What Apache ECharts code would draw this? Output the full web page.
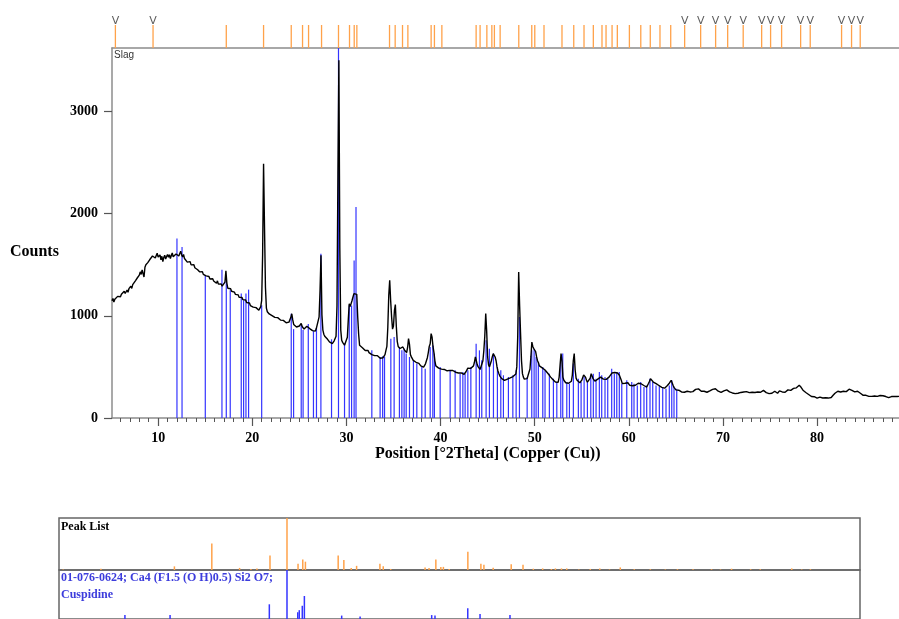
<!DOCTYPE html>
<html>
<head>
<meta charset="utf-8">
<script src="https://cdn.jsdelivr.net/npm/echarts@6.0.0/dist/echarts.min.js"></script>
<style>
  html, body { margin: 0; padding: 0; background: #fff; }
  #main { width: 899px; height: 619px; }
</style>
</head>
<body>
<div id="main"></div>
<script>
// measured scan, 2theta from 5.1 to 88.7 in 0.1 steps
const scanStart = 5.1
const scanStep = 0.1
const scanCounts = [
  1148, 1170, 1135, 1162, 1180, 1158, 1190, 1172, 1205, 1186,
  1210, 1195, 1222, 1240, 1218, 1236, 1252, 1230, 1265, 1278,
  1290, 1268, 1305, 1322, 1300, 1345, 1330, 1372, 1355, 1398,
  1430, 1405, 1448, 1462, 1380, 1475, 1500, 1488, 1520, 1505,
  1548, 1560, 1535, 1585, 1570, 1598, 1565, 1590, 1612, 1575,
  1560, 1595, 1548, 1582, 1530, 1570, 1592, 1555, 1580, 1600,
  1572, 1598, 1560, 1590, 1615, 1578, 1596, 1565, 1605, 1590,
  1620, 1585, 1610, 1632, 1595, 1575, 1600, 1560, 1548, 1570,
  1525, 1540, 1512, 1530, 1498, 1510, 1485, 1500, 1470, 1478,
  1462, 1450, 1468, 1430, 1445, 1420, 1432, 1405, 1415, 1398,
  1390, 1402, 1375, 1385, 1360, 1372, 1348, 1362, 1340, 1355,
  1330, 1318, 1342, 1310, 1325, 1298, 1312, 1290, 1305, 1285,
  1330, 1440, 1320, 1270, 1282, 1255, 1265, 1240, 1250, 1225,
  1232, 1210, 1218, 1195, 1205, 1182, 1190, 1170, 1180, 1158,
  1165, 1148, 1155, 1130, 1138, 1118, 1125, 1100, 1112, 1092,
  1085, 1098, 1072, 1080, 1062, 1075, 1055, 1068, 1090, 1150,
  1600, 2488, 1870, 1280, 1075, 1040, 1030, 1018, 1025, 1010,
  1002, 1012, 995, 985, 998, 975, 982, 968, 975, 958,
  965, 948, 955, 940, 950, 932, 945, 925, 938, 930,
  985, 1020, 960, 915, 905, 920, 890, 902, 885, 900,
  912, 925, 895, 880, 870, 862, 885, 898, 910, 890,
  875, 868, 882, 855, 848, 862, 850, 875, 868, 880,
  990, 1250, 1591, 1010, 860, 820, 800, 792, 785, 770,
  752, 745, 760, 738, 728, 740, 755, 770, 800, 1100,
  2390, 3500, 1660, 860, 760, 740, 725, 712, 720, 708,
  790, 960, 1118, 1090, 1086, 1150, 1184, 1217, 1200, 1233,
  1210, 990, 820, 711, 700, 695, 688, 672, 680, 660,
  655, 648, 660, 640, 632, 645, 620, 628, 615, 610,
  605, 598, 610, 592, 600, 585, 595, 580, 590, 600,
  620, 662, 700, 890, 1200, 1347, 1150, 990, 870, 900,
  1050, 1110, 900, 750, 700, 690, 680, 672, 690, 695,
  688, 660, 650, 640, 690, 776, 720, 620, 598, 580,
  564, 570, 552, 545, 535, 528, 535, 518, 510, 500,
  505, 498, 512, 530, 560, 590, 640, 700, 727, 825,
  790, 700, 640, 560, 510, 498, 492, 488, 480, 485,
  478, 490, 470, 475, 466, 480, 462, 470, 458, 466,
  472, 460, 465, 455, 462, 448, 452, 450, 440, 445,
  438, 442, 430, 435, 428, 440, 452, 470, 488, 495,
  480, 485, 478, 490, 510, 545, 597, 560, 520, 500,
  485, 475, 466, 470, 560, 660, 800, 1021, 850, 600,
  520, 500, 510, 560, 600, 630, 615, 597, 560, 500,
  460, 434, 410, 398, 385, 378, 372, 368, 370, 375,
  380, 385, 378, 392, 388, 400, 405, 418, 412, 430,
  500, 800, 1428, 1100, 825, 560, 434, 400, 380, 370,
  372, 385, 418, 430, 480, 600, 743, 700, 680, 694,
  650, 600, 560, 540, 510, 500, 495, 490, 486, 483,
  470, 460, 448, 434, 425, 410, 400, 390, 380, 370,
  365, 352, 340, 336, 350, 400, 520, 630, 560, 400,
  369, 355, 345, 340, 338, 340, 336, 345, 360, 420,
  560, 630, 470, 390, 369, 360, 352, 345, 360, 370,
  385, 420, 434, 400, 370, 350, 345, 360, 390, 434,
  410, 385, 370, 360, 352, 365, 380, 372, 395, 400,
  388, 392, 380, 375, 370, 378, 385, 395, 400, 410,
  418, 440, 450, 438, 445, 430, 450, 440, 432, 418,
  400, 370, 336, 345, 352, 340, 350, 330, 345, 335,
  320, 330, 303, 315, 325, 310, 320, 335, 330, 340,
  352, 345, 335, 340, 328, 318, 325, 310, 303, 320,
  340, 360, 385, 395, 370, 352, 345, 338, 336, 330,
  325, 318, 310, 305, 300, 295, 286, 292, 300, 310,
  318, 325, 340, 355, 369, 345, 320, 300, 285, 275,
  270, 265, 272, 258, 262, 255, 268, 260, 252, 262,
  270, 262, 275, 268, 255, 262, 270, 258, 265, 272,
  280, 275, 268, 285, 278, 270, 262, 268, 255, 262,
  258, 265, 252, 260, 270, 265, 275, 268, 280, 285,
  290, 286, 278, 270, 262, 255, 262, 250, 258, 262,
  265, 258, 270, 275, 271, 262, 255, 248, 252, 245,
  240, 248, 238, 245, 252, 242, 235, 245, 250, 242,
  248, 255, 262, 270, 258, 250, 242, 248, 238, 245,
  252, 245, 238, 250, 258, 262, 255, 268, 260, 252,
  258, 265, 270, 262, 255, 248, 240, 232, 238, 228,
  235, 242, 250, 258, 262, 255, 248, 242, 255, 265,
  271, 262, 255, 248, 258, 252, 262, 268, 275, 270,
  262, 270, 278, 285, 290, 282, 288, 295, 305, 312,
  320, 315, 300, 285, 272, 265, 258, 250, 245, 238,
  230, 225, 218, 210, 205, 200, 208, 198, 202, 195,
  192, 200, 205, 198, 190, 196, 203, 192, 198, 205,
  200, 195, 205, 210, 200, 215, 222, 235, 242, 250,
  255, 262, 258, 265, 254, 260, 268, 262, 270, 265,
  258, 268, 275, 282, 290, 278, 270, 262, 268, 255,
  260, 254, 262, 258, 250, 242, 235, 228, 222, 218,
  215, 222, 210, 218, 212, 220, 205, 212, 218, 222,
  215, 210, 220, 212, 205, 215, 220, 208, 212, 218,
  212, 205, 210, 215, 208, 200, 212, 205, 210, 215,
  208, 212, 205, 215, 210, 205, 212
]

// peak list (positions + relative intensity %)
const peakTheta = [5.46, 9.46, 17.24, 21.2, 24.14, 25.34, 25.98, 27.36, 29.16, 30.33, 30.83, 31.11,
  34.58, 35.18, 35.96, 36.53, 39.0, 39.35, 40.14, 43.78, 44.2, 44.92, 45.45, 45.72, 46.33, 48.31,
  49.69, 50.01, 50.99, 52.9, 54.15, 55.24, 56.23, 57.15, 57.58, 58.22, 58.78, 60.06, 61.27, 62.28,
  63.31, 64.45, 65.93, 67.63, 69.22, 70.5, 72.15, 74.11, 75.06, 76.23, 78.25, 79.27, 82.6, 83.66, 84.58]
const peakRel = [1, 2.5, 7, 51, 4, 2, 3, 28, 100, 12, 20, 16,
  28, 19, 4, 8, 12, 7, 2, 5, 4, 20, 6, 6, 2, 35,
  12, 10, 4.5, 11, 10, 2.5, 3, 2, 3, 3, 3, 1, 2, 3,
  1, 5, 1.5, 1.5, 1, 1.5, 1.5, 1.5, 1, 2.5, 1.5, 1.5, 3, 1, 1.5]
// peaks flagged with a "V" in the strip
const peakMarked = [5.46, 9.46, 65.93, 67.63, 69.22, 70.5, 72.15, 74.11, 75.06, 76.23, 78.25, 79.27, 82.6, 83.66, 84.58]

// Cuspidine reference sticks as drawn in the scan window
const refTheta = [12.0, 12.54, 15.01, 16.78, 17.24, 17.66, 18.83, 19.08, 19.33, 19.61, 21.0,
  24.14, 24.39, 25.2, 25.4, 25.95, 26.5, 26.82, 27.29, 28.42, 29.16, 29.8, 30.3, 30.55, 30.82, 31.02,
  32.7, 33.58, 33.85, 34.05, 34.72, 35.07, 35.63, 35.89, 36.13, 36.35, 36.7, 37.12, 37.48, 38.01, 38.37,
  38.9, 39.18, 39.35, 39.96, 41.02, 41.55, 42.08, 42.37, 42.61, 42.9, 43.22, 43.78, 44.13, 44.38, 44.84,
  45.19, 45.62, 46.04, 46.4, 46.68, 47.21, 47.68, 48.03, 48.38, 49.2, 49.69, 49.94, 50.15, 50.39, 50.86,
  51.1, 51.56, 51.99, 52.35, 52.77, 52.98, 53.41, 53.69, 54.11, 54.64, 54.93, 55.25, 55.6, 55.96, 56.23,
  56.52, 56.87, 57.12, 57.47, 57.76, 58.18, 58.46, 58.72, 58.99, 59.25, 59.78, 60.31, 60.55, 60.9, 61.26,
  61.61, 61.9, 62.25, 62.54, 62.89, 63.24, 63.6, 63.95, 64.3, 64.56, 64.8, 65.09]
const refCounts = [1755, 1673, 1396, 1451, 1347, 1249, 1217, 1151, 1217, 1256, 1102,
  1021, 870, 920, 860, 920, 850, 880, 1608, 770, 3620, 728, 1102, 1100, 1542, 2064,
  662, 597, 605, 600, 776, 792, 694, 662, 678, 630, 597, 564, 532, 499, 483,
  694, 711, 630, 499, 466, 466, 434, 450, 434, 466, 499, 727, 662, 564, 760,
  678, 630, 499, 466, 418, 401, 418, 466, 988, 400, 662, 678, 597, 548, 499,
  466, 434, 385, 352, 597, 630, 352, 336, 532, 385, 352, 401, 352, 418, 434,
  385, 450, 418, 401, 385, 483, 434, 450, 450, 336, 369, 352, 336, 319, 352,
  303, 319, 385, 352, 319, 319, 303, 286, 319, 369, 303, 286]

// Cuspidine sticks in the lower panel (relative %)
const refListTheta = [12.0, 16.78, 27.29, 29.16, 30.3, 30.46, 30.78, 31.0, 34.95, 36.9, 44.48, 44.83, 48.3, 49.6, 52.77]
const refListRel = [8, 8, 30, 100, 14, 18, 27, 47, 7, 5, 8, 7, 22, 10, 8]

// axis ticks
const xLabels = [10, 20, 30, 40, 50, 60, 70, 80]
const xMinorTicks = []
for (let t = 6; t <= 88; t++) xMinorTicks.push(t)
const yLabels = [0, 1000, 2000, 3000]

const scanData = scanCounts.map((c, i) => [+(scanStart + i * scanStep).toFixed(2), c])

var myChart = echarts.init(document.getElementById('main'), null, { renderer: 'canvas' })

const serif = 'Liberation Serif'
const gray = '#8c8c8c'
const orange = '#ffa24a'
const blue = '#3434ff'
const hidden = { show: false }

myChart.setOption({
  animation: false,
  backgroundColor: '#fff',
  grid: [
    { left: 112, right: 0, top: 10, height: 38 },
    { left: 112, right: 0, top: 48, height: 370 },
    { left: 112, right: 0, top: 48, height: 370 },
    { left: 59, width: 801, top: 518, height: 52, show: true, borderColor: '#666', borderWidth: 1.5 },
    { left: 59, width: 801, top: 570, height: 53, show: true, borderColor: '#666', borderWidth: 1.5 }
  ],
  xAxis: [
    { type: 'value', gridIndex: 0, min: 5.1, max: 88.7, axisLine: { lineStyle: { color: gray, width: 1.5 } },
      axisTick: hidden, axisLabel: hidden, splitLine: hidden },
    { type: 'value', gridIndex: 1, min: 5.1, max: 88.7,
      axisLine: { onZero: false, lineStyle: { color: gray, width: 1.5 } },
      axisTick: { customValues: xLabels, length: 8, lineStyle: { color: '#555', width: 1.2 } },
      axisLabel: { customValues: xLabels, margin: 13, color: '#000', fontFamily: serif, fontWeight: 'bold', fontSize: 14 },
      splitLine: hidden },
    { type: 'value', gridIndex: 2, min: 5.1, max: 88.7, axisLine: hidden,
      axisTick: { customValues: xMinorTicks, length: 4, lineStyle: { color: '#555' } },
      axisLabel: hidden, splitLine: hidden },
    { type: 'value', gridIndex: 3, min: 5.02, max: 89.83, show: false },
    { type: 'value', gridIndex: 4, min: 5.02, max: 89.83, show: false }
  ],
  yAxis: [
    { type: 'value', gridIndex: 0, min: 0, max: 1.65, show: false },
    { type: 'value', gridIndex: 1, min: 0, max: 3620,
      axisLine: { show: true, lineStyle: { color: gray, width: 1.5 } },
      axisTick: { show: true, customValues: yLabels, length: 8, lineStyle: { color: '#555', width: 1.2 } },
      axisLabel: { customValues: yLabels, formatter: v => String(v), margin: 14, color: '#000', fontFamily: serif, fontWeight: 'bold', fontSize: 14 },
      splitLine: hidden },
    { type: 'value', gridIndex: 2, min: 0, max: 3620, show: false },
    { type: 'value', gridIndex: 3, min: 0, max: 100, show: false },
    { type: 'value', gridIndex: 4, min: 0, max: 100, show: false }
  ],
  series: [
    // peak markers strip
    {
      type: 'bar', xAxisIndex: 0, yAxisIndex: 0, barWidth: 1.3,
      itemStyle: { color: orange },
      data: peakTheta.map(t => [t, 1])
    },
    {
      type: 'scatter', xAxisIndex: 0, yAxisIndex: 0, symbol: 'rect', symbolSize: 1,
      itemStyle: { color: 'rgba(0,0,0,0)' },
      label: { show: true, position: 'inside', formatter: 'V', color: '#333', fontFamily: 'DejaVu Sans', fontSize: 11 },
      data: peakMarked.map(t => [t, 1.17])
    },
    // reference sticks in scan
    {
      type: 'bar', xAxisIndex: 1, yAxisIndex: 1, barWidth: 1.2, z: 2,
      itemStyle: { color: blue },
      data: refTheta.map((t, i) => [t, refCounts[i]])
    },
    // scan
    {
      type: 'line', xAxisIndex: 1, yAxisIndex: 1, showSymbol: false, z: 3,
      lineStyle: { color: '#000', width: 1.4 },
      data: scanData
    },
    // peak list panel
    {
      type: 'bar', xAxisIndex: 3, yAxisIndex: 3, barWidth: 1.5,
      itemStyle: { color: orange },
      data: peakTheta.map((t, i) => [t, peakRel[i]])
    },
    // cuspidine panel
    {
      type: 'bar', xAxisIndex: 4, yAxisIndex: 4, barWidth: 1.5,
      itemStyle: { color: blue },
      data: refListTheta.map((t, i) => [t, refListRel[i]])
    }
  ],
  graphic: [
    { type: 'text', left: 10, top: 244, style: { text: 'Counts', font: 'bold 16px "Liberation Serif"', fill: '#000' } },
    { type: 'text', left: 375, top: 446, style: { text: 'Position [°2Theta] (Copper (Cu))', font: 'bold 16px "Liberation Serif"', fill: '#000' } },
    { type: 'text', left: 114, top: 50, z: 10, style: { text: 'Slag', font: '10px "Liberation Sans"', fill: '#333' } },
    { type: 'text', left: 61, top: 521, style: { text: 'Peak List', font: 'bold 12px "Liberation Serif"', fill: '#000' } },
    { type: 'text', left: 61, top: 572, style: { text: '01-076-0624; Ca4 (F1.5 (O H)0.5) Si2 O7;', font: 'bold 12px "Liberation Serif"', fill: '#3c3cdc' } },
    { type: 'text', left: 61, top: 589, style: { text: 'Cuspidine', font: 'bold 12px "Liberation Serif"', fill: '#3c3cdc' } }
  ]
})
</script>
</body>
</html>
